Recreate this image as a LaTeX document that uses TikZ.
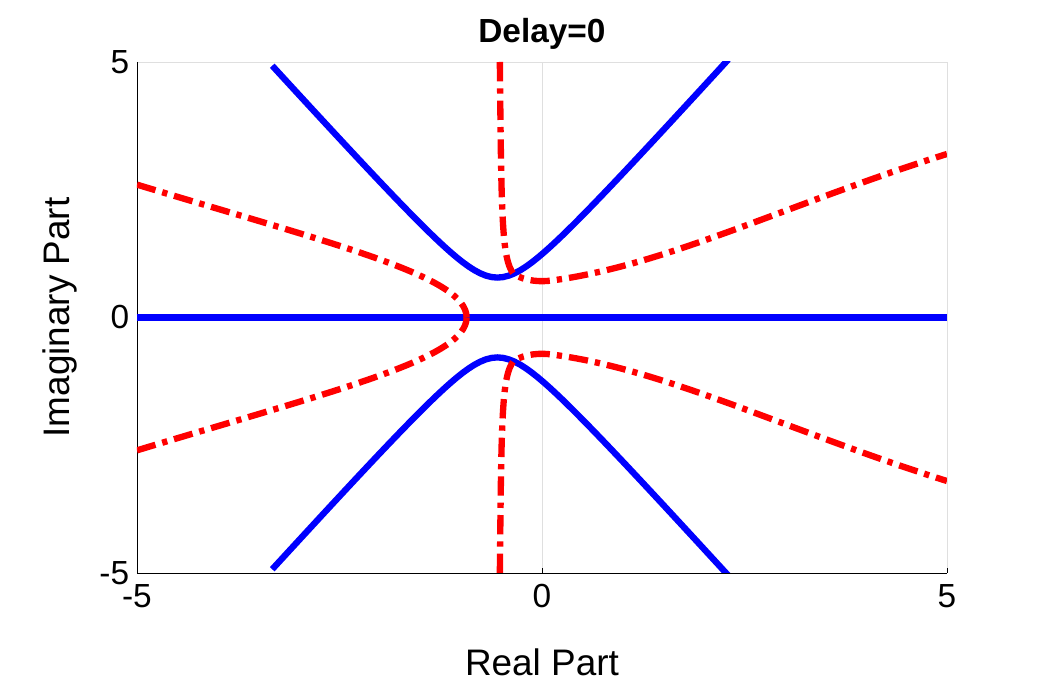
\documentclass[tikz,border=0pt]{standalone}
\usepackage{fontspec}
\setmainfont{Liberation Sans}
\usetikzlibrary{calc}
\tikzset{
  bluecurve/.style={draw=blue,line width=3.6pt},
  redcurve/.style={draw=red,line width=3.6pt,dash pattern=on 11pt off 4pt on 3pt off 4pt},
  ticklabel/.style={font=\fontsize{19}{21}\selectfont},
}
\begin{document}
\begin{tikzpicture}[x=1.62cm,y=1.022cm]
  \useasboundingbox (-6.691,-7.25) rectangle (6.235,6.213);
  % axes box and grid
  \draw[gray!25,line width=0.5pt] (0,-5) -- (0,5);
  \draw[gray!25,line width=0.5pt] (-5,5) -- (5,5) -- (5,-5);
  \draw[black,line width=0.5pt] (-5,5) -- (-5,-5) -- (5,-5);
  \foreach \t in {-5,0,5}
  {
    \draw (\t,-5) -- (\t,-4.9);
    \node[ticklabel,below] (xt\t) at (\t,-5.1) {\t};
    \node[ticklabel,left] (yt\t) at (-5.02,\t) {\t};
  }
  \node[font=\fontsize{21}{23}\selectfont] (xlabel) at (0,-6.75) {Real Part};
  \node[font=\fontsize{21}{23}\selectfont,rotate=90] (ylabel) at (-5.95,0) {Imaginary Part};
  \node[font=\fontsize{19}{21}\selectfont\bfseries] (title) at (0,5.55) {Delay=0};
  % blue branches
  \begin{scope}
    \clip (-5,-5) rectangle (5,5);
    \draw[bluecurve] (-5,0) -- (5,0);
    \draw[bluecurve] plot[domain=-3.33:2.3,samples=80] (\x,{sqrt(0.61+(1.75*(\x+0.55))^2)});
    \draw[bluecurve] plot[domain=-3.33:2.3,samples=80] (\x,{-sqrt(0.61+(1.75*(\x+0.55))^2)});
    % red branches
    \foreach \s in {1,-1}
    {
      \draw[redcurve] (-0.52,5*\s) .. controls (-0.5,2*\s) and (-0.5,1.15*\s) .. (-0.35,0.85*\s)
        .. controls (-0.2,0.7*\s) and (0,0.7*\s) .. (0.1,0.72*\s)
        .. controls (1.5,1.0*\s) and (3,2.2*\s) .. (5,3.2*\s);
      \draw[redcurve] (-5,2.6*\s) .. controls (-2.5,1.4*\s) and (-0.93,0.8*\s) .. (-0.93,0);
    }
  \end{scope}
\end{tikzpicture}
\end{document}
